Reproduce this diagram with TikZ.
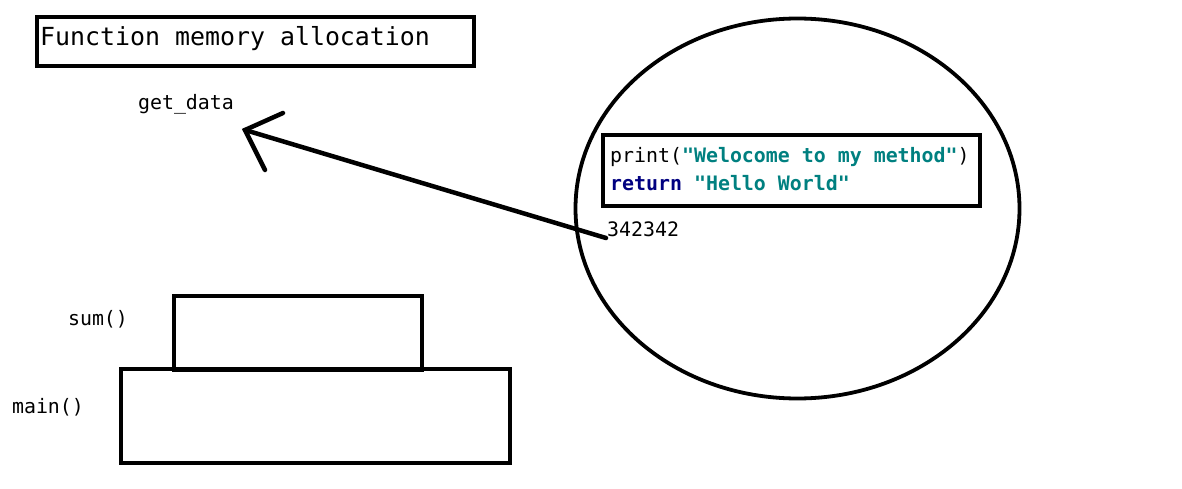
\documentclass[tikz,border=0pt]{standalone}
\usepackage{fontspec}
\usetikzlibrary{shapes.geometric}
\setmonofont{DejaVu Sans Mono}
\definecolor{strteal}{RGB}{0,128,128}
\definecolor{kwnavy}{RGB}{0,0,128}
\begin{document}
\begin{tikzpicture}[x=1pt,y=-1pt,
  thick box/.style={draw=black,line width=4.5pt},
  mono/.style={font=\ttfamily\fontsize{19.9}{24}\selectfont,inner sep=0pt},
  stroke/.style={line width=4.5pt,line cap=round}]
\useasboundingbox (0,0) rectangle (1182,489);
% title
\node[thick box,minimum width=437pt,minimum height=49pt,inner sep=0pt] (title) at (255.5,41.5) {};
\node[font=\ttfamily\fontsize{24.9}{28}\selectfont,anchor=west,inner sep=0pt] (titletext) at (40,39) {Function memory allocation};
% ellipse
\node[draw=black,line width=3.8pt,ellipse,minimum width=444pt,minimum height=380pt,inner sep=0pt] (ell) at (797.5,208.5) {};
% code box
\node[thick box,minimum width=377pt,minimum height=71pt,inner sep=0pt] (code) at (791.5,170.5) {};
\node[mono,anchor=west] (l1) at (610,157) {print(\textbf{\color{strteal}"Welocome to my method"})};
\node[mono,anchor=west] (l2) at (610,183) {\textbf{\color{kwnavy}return} \textbf{\color{strteal}"Hello World"}};
% address
\node[mono,anchor=west] (addr) at (607,229) {342342};
% get_data
\node[mono] (getdata) at (186,104) {get\_data};
% arrow
\coordinate (start) at (606,238);
\coordinate (tip) at (245,130);
\coordinate (wing1) at (283,113);
\coordinate (wing2) at (265,170);
\draw[stroke] (start) -- (tip);
\draw[stroke] (wing1) -- (tip) -- (wing2);
% stack frames
\node[thick box,minimum width=248pt,minimum height=74pt,inner sep=0pt] (sum) at (298,333) {};
\node[thick box,minimum width=389pt,minimum height=94pt,inner sep=0pt] (main) at (315.5,416) {};
\node[mono] (sumlabel) at (98,319) {sum()};
\node[mono] (mainlabel) at (48,407) {main()};
\end{tikzpicture}
\end{document}
